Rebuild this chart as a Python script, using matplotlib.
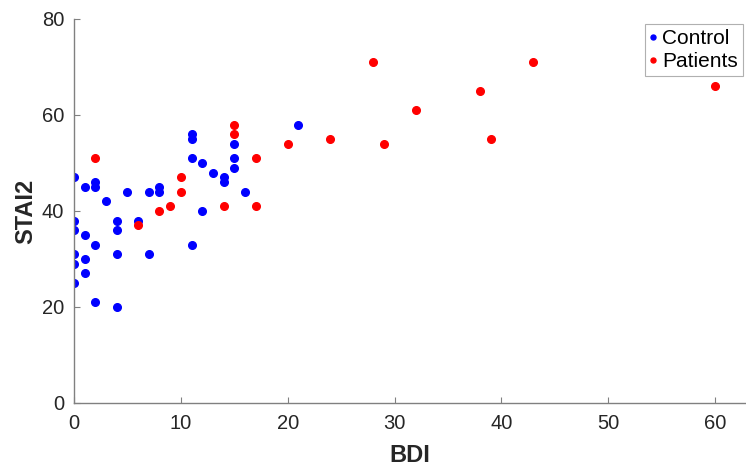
import numpy as np
import matplotlib.pyplot as plt

# =====================================================
# DATA
# =====================================================
control_bdi = [0, 0, 0, 0, 0, 0,
               1, 1, 1, 1,
               2, 2, 2, 2,
               3,
               4, 4, 4, 4,
               5, 6, 7, 7, 8, 8,
               11, 11, 11, 11,
               12, 12, 13, 14, 14,
               15, 15, 15, 16, 21]
control_stai = [47, 38, 36, 31, 29, 25,
                45, 35, 30, 27,
                46, 45, 33, 21,
                42,
                38, 36, 31, 20,
                44, 38, 44, 31, 45, 44,
                56, 55, 51, 33,
                50, 40, 48, 47, 46,
                54, 51, 49, 44, 58]

patient_bdi = [2, 6, 8, 9, 10, 10, 14, 15, 15, 17, 17,
               20, 24, 28, 29, 32, 38, 39, 43, 60]
patient_stai = [51, 37, 40, 41, 47, 44, 41, 58, 56, 51, 41,
                54, 55, 71, 54, 61, 65, 55, 71, 66]

AXIS_GREY = "#808080"
TEXT_COL = "#262626"

plt.rcParams["font.family"] = ["Liberation Sans", "DejaVu Sans"]

# =====================================================
# PLOT
# =====================================================
fig = plt.figure(figsize=(7.46, 4.75), dpi=100)
ax = fig.add_axes([0.0992, 0.1516, 0.9008, 0.8084])

ax.plot(control_bdi, control_stai, linestyle="none", marker="o",
        markersize=5.5, color="#0000ff", label="Control")
ax.plot(patient_bdi, patient_stai, linestyle="none", marker="o",
        markersize=5.5, color="#ff0000", label="Patients")

ax.set_xlim(0, 62.9)
ax.set_ylim(0, 80)
ax.set_xticks(np.arange(0, 61, 10))
ax.set_yticks(np.arange(0, 81, 20))

for side in ["top", "right"]:
    ax.spines[side].set_visible(False)
for side in ["left", "bottom"]:
    ax.spines[side].set_color(AXIS_GREY)
    ax.spines[side].set_linewidth(1.0)

ax.tick_params(direction="in", length=4, width=0.8, color=AXIS_GREY,
               labelsize=14.5, labelcolor=TEXT_COL)
ax.tick_params(axis="x", pad=8)
ax.tick_params(axis="y", pad=7)

ax.set_xlabel("BDI", fontsize=17, fontweight="bold", color=TEXT_COL, labelpad=8)
ax.set_ylabel("STAI2", fontsize=17, fontweight="bold", color=TEXT_COL, labelpad=3)

leg = ax.legend(loc="upper right", bbox_to_anchor=(0.996, 0.988),
                fontsize=15, frameon=True, fancybox=False, framealpha=1,
                edgecolor="#b0b0b0", handlelength=0.3, handletextpad=0.3,
                borderpad=0.25, labelspacing=0.2, markerscale=0.65,
                borderaxespad=0)
leg.get_frame().set_linewidth(0.8)

fig.savefig("out.png", dpi=100)
plt.close(fig)
